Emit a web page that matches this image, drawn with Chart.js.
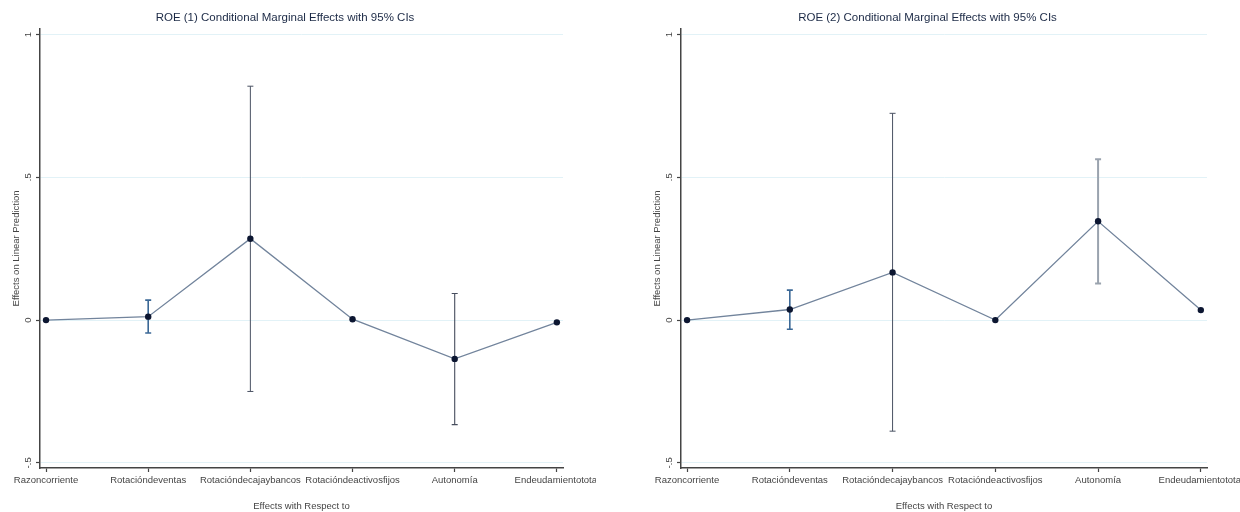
<!DOCTYPE html>
<html>
<head>
<meta charset="utf-8">
<script src="https://cdn.jsdelivr.net/npm/chart.js@4"></script>
<style>
  body { margin: 0; background: #fff; width: 1240px; height: 512px; overflow: hidden; position: relative; }
  .panel { position: absolute; top: 0; height: 512px; }
</style>
</head>
<body>
<div class="panel" style="left:0;width:596px;"><canvas id="roe1"></canvas></div>
<div class="panel" style="left:641px;width:599px;"><canvas id="roe2"></canvas></div>
<script>
// categories on the x axis (Stata marginsplot, two models)
const categories = ['Razoncorriente', 'Rotacióndeventas', 'Rotacióndecajaybancos', 'Rotacióndeactivosfijos', 'Autonomía', 'Endeudamientototal'];
const yTicks = [-0.5, 0, 0.5, 1];

// ROE (1)
const roe1Effect = [0.000, 0.012, 0.285, 0.003, -0.136, -0.008];
const roe1Lower  = [null, -0.045, -0.250, null, -0.366, null];
const roe1Upper  = [null, 0.070, 0.819, null, 0.093, null];

// ROE (2)
const roe2Effect = [0.000, 0.037, 0.167, 0.000, 0.346, 0.035];
const roe2Lower  = [null, -0.032, -0.389, null, 0.128, null];
const roe2Upper  = [null, 0.105, 0.724, null, 0.563, null];

// CI line looks (colour, width) per category
const ciLook1 = [['#4a5263', 1], ['#3b6896', 1.6], ['#4a5263', 1], ['#4a5263', 1], ['#474e5e', 1.1], ['#4a5263', 1]];
const ciLook2 = [['#4a5263', 1], ['#3b6896', 1.6], ['#4a5263', 1], ['#4a5263', 1], ['#9aa3ae', 2], ['#4a5263', 1]];

const FONT = 'Liberation Sans, Arial, sans-serif';
const AXIS = '#444';

function stataNum(v) {
  if (v === 0) return '0';
  return (v < 0 ? '-' : '') + String(Math.abs(v)).replace(/^0/, '');
}

// confidence interval bars with small caps
const ciBars = {
  id: 'ciBars',
  beforeDatasetsDraw(chart, args, opts) {
    const { ctx, scales: { x, y } } = chart;
    ctx.save();
    opts.lower.forEach((lo, i) => {
      const hi = opts.upper[i];
      if (lo == null || hi == null) return;
      const px = x.getPixelForValue(i);
      const top = y.getPixelForValue(hi);
      const bot = y.getPixelForValue(lo);
      const [color, w] = opts.look[i];
      ctx.strokeStyle = color;
      ctx.lineWidth = w;
      ctx.beginPath();
      ctx.moveTo(px, top); ctx.lineTo(px, bot);
      ctx.moveTo(px - 3, top); ctx.lineTo(px + 3, top);
      ctx.moveTo(px - 3, bot); ctx.lineTo(px + 3, bot);
      ctx.stroke();
    });
    ctx.restore();
  }
};

// y tick labels rotated the Stata way
const yLabels = {
  id: 'yLabels',
  afterDraw(chart) {
    const { ctx, scales: { y } } = chart;
    ctx.save();
    ctx.fillStyle = AXIS;
    ctx.font = '9.5px ' + FONT;
    ctx.textAlign = 'center';
    ctx.textBaseline = 'middle';
    yTicks.forEach(v => {
      ctx.save();
      ctx.translate(y.left + 28, y.getPixelForValue(v));
      ctx.rotate(-Math.PI / 2);
      ctx.fillText(stataNum(v), 0, 0);
      ctx.restore();
    });
    ctx.restore();
  }
};

function makeChart(id, title, effect, lower, upper, look, padRight) {
  return new Chart(document.getElementById(id), {
    type: 'line',
    data: {
      datasets: [{
        data: effect.map((v, i) => ({ x: i, y: v })),
        borderColor: '#72849c',
        borderWidth: 1.3,
        pointRadius: 3.2,
        pointBackgroundColor: '#0c1631',
        pointBorderWidth: 0,
        tension: 0,
      }],
    },
    options: {
      responsive: true,
      maintainAspectRatio: false,
      animation: false,
      layout: { padding: { left: 0, right: 26, top: 0, bottom: 0 } },
      plugins: {
        legend: { display: false },
        tooltip: { enabled: false },
        title: {
          display: true,
          text: title,
          color: '#1b2945',
          font: { family: FONT, size: 11.5, weight: 'normal' },
          padding: { top: 11, bottom: 4 },
        },
        ciBars: { lower, upper, look },
      },
      scales: {
        x: {
          type: 'linear',
          min: -0.059,
          max: 5.06,
          afterBuildTicks: s => { s.ticks = categories.map((_, i) => ({ value: i })); },
          afterFit: s => { s.paddingLeft = 0; s.paddingRight = padRight; s.height = 44; },
          ticks: {
            callback: v => categories[v],
            autoSkip: false,
            maxRotation: 0,
            minRotation: 0,
            padding: 3,
            color: AXIS,
            font: { family: FONT, size: 9.5 },
          },
          grid: { drawOnChartArea: false, drawTicks: true, tickLength: 4, tickColor: AXIS, tickWidth: 1.2 },
          border: { color: AXIS, width: 1.5 },
          title: {
            display: true,
            text: 'Effects with Respect to',
            color: AXIS,
            font: { family: FONT, size: 9.5 },
            padding: { top: 0, bottom: 0 },
          },
        },
        y: {
          min: -0.518,
          max: 1.02,
          afterBuildTicks: s => { s.ticks = yTicks.map(v => ({ value: v })); },
          afterFit: s => { s.width = 40; },
          ticks: { display: false },
          grid: { color: '#e2f2f7', lineWidth: 1, drawTicks: true, tickLength: 4, tickColor: AXIS, tickWidth: 1.2 },
          border: { color: AXIS, width: 1.5 },
          title: {
            display: true,
            text: 'Effects on Linear Prediction',
            color: AXIS,
            font: { family: FONT, size: 9.5 },
            padding: { top: 11, bottom: 0 },
          },
        },
      },
    },
    plugins: [ciBars, yLabels],
  });
}

makeChart('roe1', 'ROE (1) Conditional Marginal Effects with 95% CIs', roe1Effect, roe1Lower, roe1Upper, ciLook1, 33);
makeChart('roe2', 'ROE (2) Conditional Marginal Effects with 95% CIs', roe2Effect, roe2Lower, roe2Upper, ciLook2, 33);
</script>
</body>
</html>
